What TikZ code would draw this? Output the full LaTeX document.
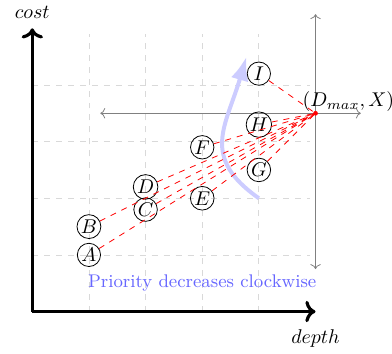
\documentclass[tikz,border=0pt]{standalone}
\usetikzlibrary{arrows.meta}
\begin{document}
\begin{tikzpicture}[
  pt/.style={draw, circle, inner sep=0.5pt, minimum size=0.41cm},
  ray/.style={red, dashed},
  guide/.style={gray, <->},
  axis/.style={ultra thick, ->},
]
\useasboundingbox (-0.57,-0.746) rectangle (6.35,5.5);
\draw[gray!30, dashed] (0,0) grid (4.9,4.9);
\coordinate (O) at (0,0);
\coordinate (xe) at (5,0);
\coordinate (ye) at (0,5);
\draw[axis] (O) -- (xe);
\draw[axis] (O) -- (ye);
\node (dl) at (5,-0.48) {$depth$};
\node (cl) at (0,5.29) {$cost$};
\coordinate (X) at (5,3.5);
\coordinate (hl) at (1.2,3.5);
\coordinate (hr) at (5.8,3.5);
\coordinate (vt) at (5,5.25);
\coordinate (vb) at (5,0.75);
\draw[guide] (hl) -- (hr);
\draw[guide] (vb) -- (vt);
\node at (5.58,3.71) (xl) {$(D_{max},X)$};
\coordinate (arcS) at (4,2);
\coordinate (arcE) at (3.78,4.5);
\draw[blue!20, line width=2pt, -{Latex}] (arcS) .. controls (2.96,2.73) and (3.42,3.27) .. (arcE);
\node[pt] (A) at (1,1) {$A$};
\node[pt] (B) at (1,1.5) {$B$};
\node[pt] (C) at (2,1.8) {$C$};
\node[pt] (D) at (2,2.2) {$D$};
\node[pt] (E) at (3,2) {$E$};
\node[pt] (F) at (3,2.9) {$F$};
\node[pt] (G) at (4,2.5) {$G$};
\node[pt] (H) at (4,3.3) {$H$};
\node[pt] (I) at (4,4.2) {$I$};
\foreach \n in {A,B,C,D,E,F,G,H,I} \draw[ray] (\n) -- (X);
\fill[red] (X) circle (1.2pt);
\node[blue!60, font=\fontsize{9.2pt}{11pt}\selectfont] (pr) at (3,0.5) {Priority decreases clockwise};
\end{tikzpicture}
\end{document}
